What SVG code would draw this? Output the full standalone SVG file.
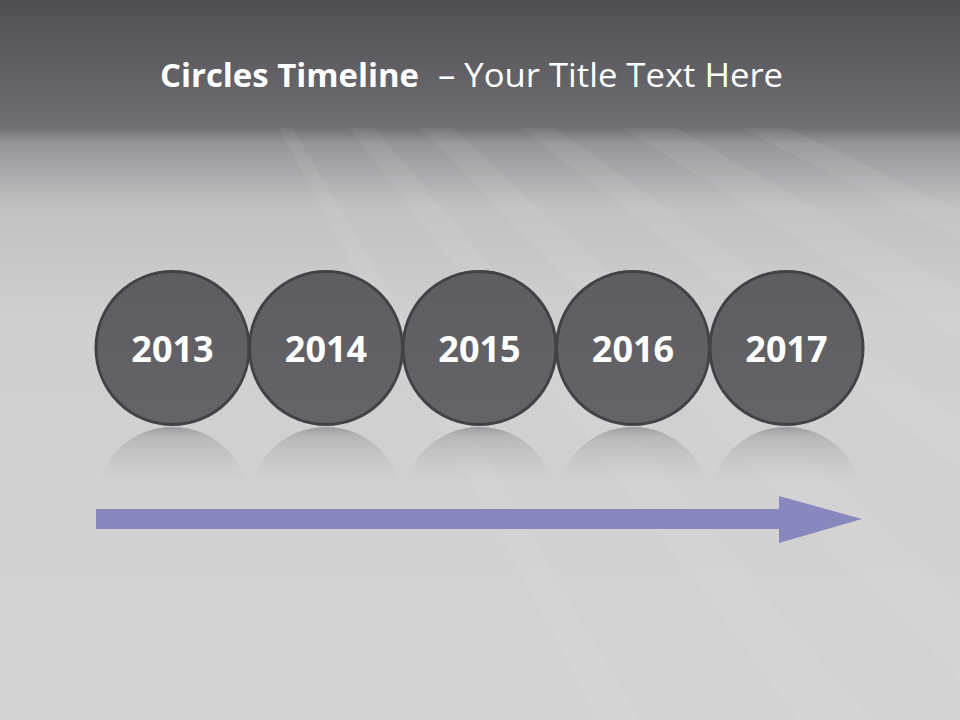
<svg xmlns="http://www.w3.org/2000/svg" width="960" height="720" viewBox="0 0 960 720">
  <defs>
    <linearGradient id="bg" x1="0" y1="0" x2="0" y2="720" gradientUnits="userSpaceOnUse">
      <stop offset="0" stop-color="#4e4e53"/>
      <stop offset="0.17" stop-color="#6d6d72"/>
      <stop offset="0.178" stop-color="#707075"/>
      <stop offset="0.2" stop-color="#96969a"/>
      <stop offset="0.29" stop-color="#c2c2c3"/>
      <stop offset="0.45" stop-color="#cfcfcf"/>
      <stop offset="1" stop-color="#d3d3d3"/>
    </linearGradient>
    <linearGradient id="refl" x1="0" y1="427" x2="0" y2="486" gradientUnits="userSpaceOnUse">
      <stop offset="0" stop-color="#88888c" stop-opacity="0.75"/>
      <stop offset="0.15" stop-color="#a4a4a7" stop-opacity="0.6"/>
      <stop offset="1" stop-color="#c8c8c8" stop-opacity="0"/>
    </linearGradient>
    <linearGradient id="disc" x1="0" y1="0" x2="0" y2="1">
      <stop offset="0" stop-color="#5d5d62"/>
      <stop offset="1" stop-color="#646468"/>
    </linearGradient>
    <clipPath id="floor">
      <rect x="0" y="128" width="960" height="592"/>
    </clipPath>
    <clipPath id="reflClip">
      <rect x="0" y="427" width="960" height="60"/>
    </clipPath>
  </defs>
  <style>
    .disc { fill: url(#disc); stroke: #414146; stroke-width: 3; }
    .year { font-family: "Open Sans", "Liberation Sans", sans-serif; font-weight: 700; font-size: 36px; fill: #ffffff; text-anchor: middle; }
    .streak { fill: #ffffff; opacity: 0.06; }
    .refl { fill: url(#refl); }
    .title { font-family: "Open Sans", "Liberation Sans", sans-serif; font-size: 32px; fill: #ffffff; }
  </style>

  <!-- background -->
  <rect x="0" y="0" width="960" height="720" fill="url(#bg)"/>
  <g id="streaks" clip-path="url(#floor)">
    <polygon class="streak" points="100,-200 960,210 960,240"/>
    <polygon class="streak" points="100,-200 960,290 960,340"/>
    <polygon class="streak" points="100,-200 960,420 960,470"/>
    <polygon class="streak" points="100,-200 960,600 960,680"/>
    <polygon class="streak" points="100,-200 800,720 870,720"/>
    <polygon class="streak" points="100,-200 600,720 640,720"/>
  </g>

  <!-- title -->
  <g id="title">
    <text class="title" x="160" y="87"><tspan font-weight="700" textLength="259" lengthAdjust="spacingAndGlyphs">Circles Timeline</tspan></text>
    <text class="title" x="438" y="87" textLength="345" lengthAdjust="spacingAndGlyphs">– Your Title Text Here</text>
  </g>

  <!-- reflections -->
  <g id="reflections" clip-path="url(#reflClip)">
    <circle class="refl" cx="172.5" cy="504" r="77"/>
    <circle class="refl" cx="326" cy="504" r="77"/>
    <circle class="refl" cx="479.5" cy="504" r="77"/>
    <circle class="refl" cx="633" cy="504" r="77"/>
    <circle class="refl" cx="786.5" cy="504" r="77"/>
  </g>

  <!-- nodes -->
  <g id="node-2013">
    <circle class="disc" cx="172.5" cy="348" r="76.5"/>
    <text class="year" x="172.5" y="362">2013</text>
  </g>
  <g id="node-2014">
    <circle class="disc" cx="326" cy="348" r="76.5"/>
    <text class="year" x="326" y="362">2014</text>
  </g>
  <g id="node-2015">
    <circle class="disc" cx="479.5" cy="348" r="76.5"/>
    <text class="year" x="479.5" y="362">2015</text>
  </g>
  <g id="node-2016">
    <circle class="disc" cx="633" cy="348" r="76.5"/>
    <text class="year" x="633" y="362">2016</text>
  </g>
  <g id="node-2017">
    <circle class="disc" cx="786.5" cy="348" r="76.5"/>
    <text class="year" x="786.5" y="362">2017</text>
  </g>

  <!-- connectors -->
  <g id="connectors">
    <polygon fill="#8988be" points="96,509 779,509 779,496 862,519 779,543 779,529 96,529"/>
  </g>
</svg>
